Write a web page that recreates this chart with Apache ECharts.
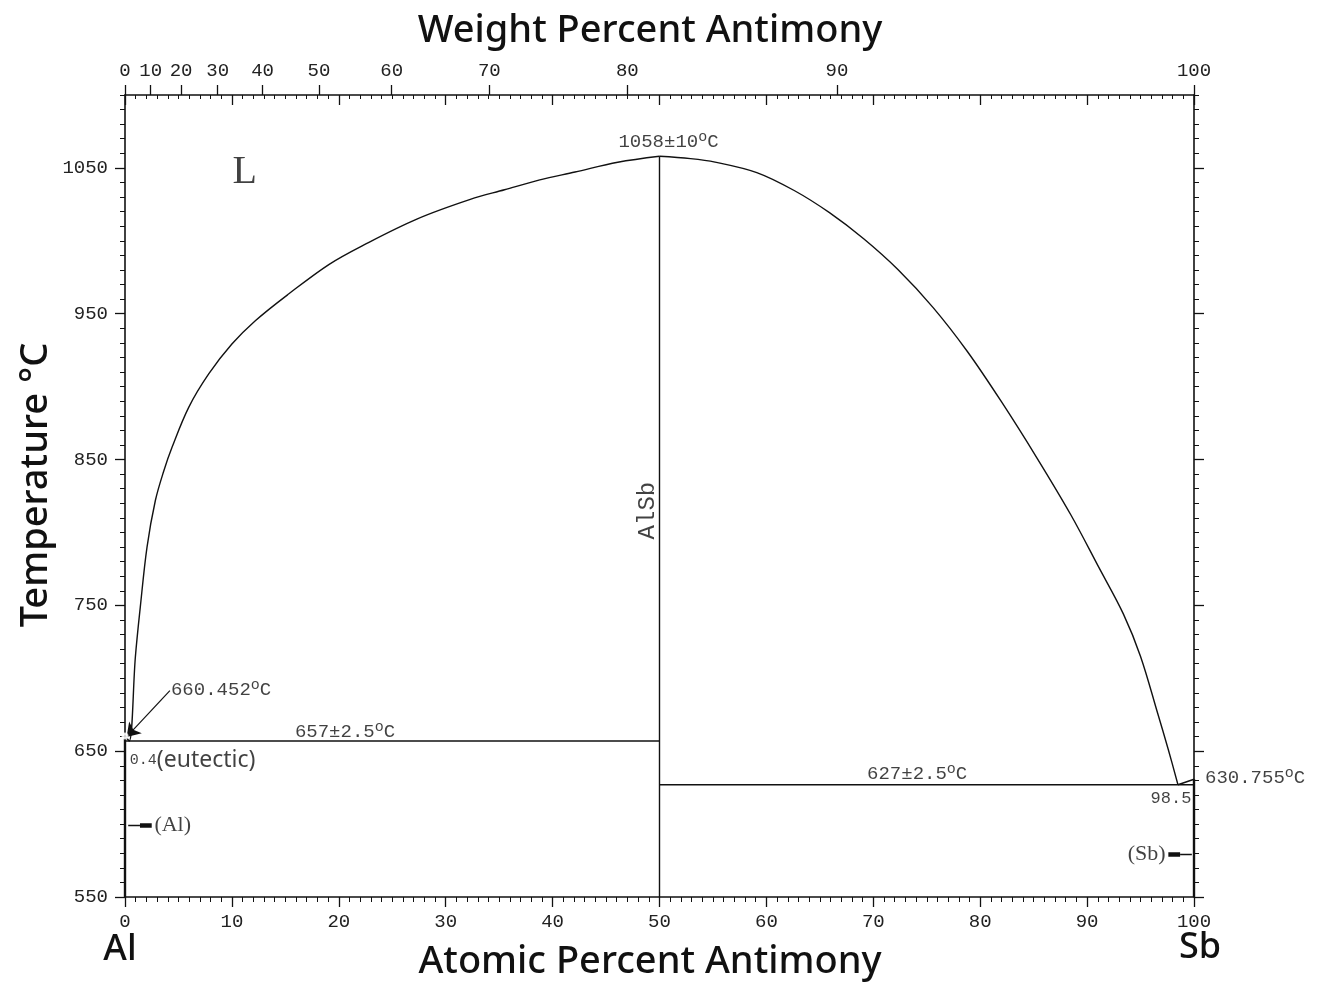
<!DOCTYPE html>
<html>
<head>
<meta charset="utf-8">
<script src="https://cdn.jsdelivr.net/npm/echarts@6/dist/echarts.min.js"></script>
<style>
  html, body { margin: 0; padding: 0; background: #fff; }
  #chart { width: 1317px; height: 985px; }
</style>
</head>
<body>
<div id="chart"></div>
<script>
// Al–Sb binary phase diagram: temperature (°C) against atomic percent Sb,
// with the matching weight-percent scale along the top edge.

const weightTicks = [0, 10, 20, 30, 40, 50, 60, 70, 80, 90, 100];
const tempTicks = [550, 650, 750, 850, 950, 1050];

// Liquidus, Al-rich side (Al melting point -> eutectic -> AlSb congruent point)
const liquidusAlAt = [0, 0.4, 0.97, 1.43, 2.06, 2.84, 3.62, 4.4, 5.96, 7.83, 10.0, 12.19, 15.3, 19.1, 22.4, 27.3, 32.3, 35.5, 38.8, 42.1, 46.1, 50];
const liquidusAlT  = [660.452, 657, 714.6, 748.8, 790, 821.9, 842, 858.4, 885.8, 908.7, 929.2, 945.2, 963.5, 983.9, 997.4, 1014.9, 1028.4, 1035, 1041.8, 1047.2, 1053.9, 1058];

// Liquidus, Sb-rich side (AlSb congruent point -> eutectic at 98.5)
const liquidusSbAt = [50, 52.9, 55.2, 59.1, 62.6, 65.9, 69.1, 72.3, 75.6, 78.8, 82.0, 85.3, 88.5, 91.1, 93.4, 95.0, 96.6, 97.6, 98.5];
const liquidusSbT  = [1058, 1056.4, 1054.0, 1046.8, 1034.5, 1019.3, 1001.4, 980.3, 954.2, 924.1, 889.5, 851.2, 811.8, 776, 744, 715, 676, 651, 627];

// Short liquidus from the Sb-side eutectic to the Sb melting point
const sbEndAt = [98.5, 100];
const sbEndT  = [627, 630.755];

// Invariant lines, compound line and terminal solid solutions
const alEutecticAt = [0, 50];
const alEutecticT  = [657, 657];
const sbEutecticAt = [50, 100];
const sbEutecticT  = [627, 627];
const compoundAt = [50, 50];
const compoundT  = [550, 1058];
const alSolidAt = [0, 0];
const alSolidT  = [550, 660.452];
const sbSolidAt = [100, 100];
const sbSolidT  = [550, 630.755];

// Molar masses used to place weight-percent ticks on the atomic-percent scale
const M_AL = 26.9815;
const M_SB = 121.76;
function wtToAt(w) {
  const a = w / M_SB, b = (100 - w) / M_AL;
  return Math.round(1e6 * 100 * a / (a + b)) / 1e6;
}
function atToWt(x) {
  const a = x * M_SB, b = (100 - x) * M_AL;
  return 100 * a / (a + b);
}

const pairs = (xs, ys) => xs.map((x, i) => [x, ys[i]]);

const INK = '#111';
const MONO = 'Liberation Mono';
const SANS = 'Noto Sans';
const degRich = {
  o: { fontSize: 15, fontFamily: MONO, color: INK, padding: [0, 0, 10, 0] }
};

const lineStyleBase = { color: INK, width: 1.4 };
function pathSeries(name, xs, ys, smooth) {
  return {
    name, type: 'line', data: pairs(xs, ys), showSymbol: false, symbol: 'none',
    smooth: smooth || false,
    lineStyle: lineStyleBase, silent: true, z: 3, clip: false
  };
}

const chart = echarts.init(document.getElementById('chart'), null, { renderer: 'canvas' });

const tickLabel = { fontFamily: MONO, fontSize: 19, color: '#222' };
const hiddenLine = { show: false, onZero: false };
const weightTickPos = weightTicks.map(wtToAt);

const option = {
  backgroundColor: '#fff',
  animation: false,
  grid: { left: 125, right: 123, top: 95, bottom: 88, outerBoundsMode: 'none', containLabel: false },
  xAxis: [
    { // atomic percent, bottom
      type: 'value', position: 'bottom', min: 0, max: 100, interval: 10,
      axisLine: { show: true, onZero: false, lineStyle: { color: INK, width: 1.6 } },
      axisTick: { show: true, inside: false, length: 10, lineStyle: { color: INK, width: 1.3 } },
      minorTick: { show: true, splitNumber: 10, length: 5, lineStyle: { color: INK, width: 1 } },
      axisLabel: Object.assign({ margin: 15, showMinLabel: true, showMaxLabel: true }, tickLabel),
      splitLine: { show: false }, minorSplitLine: { show: false }
    },
    { // atomic percent ticks mirrored inside the top edge
      type: 'value', position: 'top', min: 0, max: 100, interval: 10,
      axisLine: { show: true, onZero: false, lineStyle: { color: INK, width: 1.6 } },
      axisTick: { show: true, inside: true, length: 10, lineStyle: { color: INK, width: 1.3 } },
      minorTick: { show: true, splitNumber: 10, length: 4, lineStyle: { color: INK, width: 1 } },
      axisLabel: { show: false },
      splitLine: { show: false }, minorSplitLine: { show: false }
    },
    { // weight percent scale, top
      type: 'value', position: 'top', min: 0, max: 100,
      axisLine: hiddenLine,
      axisTick: { show: true, inside: false, length: 10, customValues: weightTickPos, lineStyle: { color: INK, width: 1.3 } },
      axisLabel: Object.assign({
        margin: 15, showMinLabel: true, showMaxLabel: true, hideOverlap: false,
        customValues: weightTickPos,
        formatter: v => String(Math.round(atToWt(v)))
      }, tickLabel),
      splitLine: { show: false }
    }
  ],
  yAxis: [
    { // temperature, left, labelled ticks
      type: 'value', position: 'left', min: 550, max: 1100,
      axisLine: { show: true, onZero: false, lineStyle: { color: INK, width: 1.6 } },
      axisTick: { show: true, inside: false, length: 10, customValues: tempTicks, lineStyle: { color: INK, width: 1.3 } },
      axisLabel: Object.assign({ margin: 17, customValues: tempTicks, formatter: v => String(v) }, tickLabel),
      splitLine: { show: false }
    },
    { // left minor ticks
      type: 'value', position: 'left', min: 550, max: 1100, interval: 10,
      axisLine: hiddenLine,
      axisTick: { show: true, inside: false, length: 5, lineStyle: { color: INK, width: 1 } },
      axisLabel: { show: false }, splitLine: { show: false }
    },
    { // right edge, major ticks
      type: 'value', position: 'right', min: 550, max: 1100,
      axisLine: { show: true, onZero: false, lineStyle: { color: INK, width: 1.6 } },
      axisTick: { show: true, inside: false, length: 10, customValues: tempTicks, lineStyle: { color: INK, width: 1.3 } },
      axisLabel: { show: false }, splitLine: { show: false }
    },
    { // right minor ticks
      type: 'value', position: 'right', min: 550, max: 1100, interval: 10,
      axisLine: hiddenLine,
      axisTick: { show: true, inside: false, length: 5, lineStyle: { color: INK, width: 1 } },
      axisLabel: { show: false }, splitLine: { show: false }
    }
  ],
  graphic: [
    { type: 'text', x: 650, y: 31, style: { text: 'Weight Percent Antimony', fontFamily: SANS, fontSize: 38, fontWeight: 500, fill: INK, align: 'center', verticalAlign: 'middle' } },
    { type: 'text', x: 650, y: 962, style: { text: 'Atomic Percent Antimony', fontFamily: SANS, fontSize: 38, fontWeight: 500, fill: INK, align: 'center', verticalAlign: 'middle' } },
    { type: 'text', x: 36, y: 485, rotation: Math.PI / 2, style: { text: 'Temperature °C', fontFamily: SANS, fontSize: 38, fontWeight: 500, fill: INK, align: 'center', verticalAlign: 'middle' } },
    { type: 'text', x: 120, y: 950, style: { text: 'Al', fontFamily: SANS, fontSize: 36, fontWeight: 500, fill: INK, align: 'center', verticalAlign: 'middle' } },
    { type: 'text', x: 1200, y: 948, style: { text: 'Sb', fontFamily: SANS, fontSize: 36, fontWeight: 500, fill: INK, align: 'center', verticalAlign: 'middle' } }
  ],
  series: [
    pathSeries('Liquidus (Al side)', liquidusAlAt, liquidusAlT, 0.35),
    pathSeries('Liquidus (Sb side)', liquidusSbAt, liquidusSbT, 0.35),
    pathSeries('Liquidus (Sb end)', sbEndAt, sbEndT),
    pathSeries('Eutectic 657', alEutecticAt, alEutecticT),
    pathSeries('Eutectic 627', sbEutecticAt, sbEutecticT),
    pathSeries('AlSb', compoundAt, compoundT),
    Object.assign(pathSeries('(Al)', alSolidAt, alSolidT), { lineStyle: { color: INK, width: 2.4 } }),
    Object.assign(pathSeries('(Sb)', sbSolidAt, sbSolidT), { lineStyle: { color: INK, width: 2.4 } }),
    { // Al melting point marker
      type: 'scatter', symbol: 'emptyCircle', symbolSize: 5, silent: true, z: 4,
      itemStyle: { color: '#fff', borderColor: INK, borderWidth: 1 },
      data: [[alSolidAt[1], alSolidT[1]]], clip: false
    },
    { // arrow from the Al melting point note
      type: 'lines', coordinateSystem: 'cartesian2d', silent: true, z: 4,
      symbol: ['none', 'arrow'], symbolSize: 13,
      lineStyle: { color: INK, width: 1.2, opacity: 1 },
      data: [{ coords: [[4.2, 691.5], [0.15, 659.8]] }]
    },
    { // pointers to the terminal solid solutions
      type: 'lines', coordinateSystem: 'cartesian2d', silent: true, z: 4,
      symbol: ['none', 'none'],
      lineStyle: { color: INK, width: 1.3, opacity: 1 },
      data: [
        { coords: [[0.3, 599], [1.4, 599]] },
        { coords: [[1.4, 599], [2.5, 599]], lineStyle: { width: 4.5 } },
        { coords: [[97.6, 579], [98.7, 579]], lineStyle: { width: 4.5 } },
        { coords: [[98.7, 579], [99.8, 579]] }
      ]
    },
    { // text annotations
      type: 'scatter', symbolSize: 0, silent: true, z: 5, clip: false,
      label: { show: true, fontFamily: MONO, fontSize: 19, color: INK, rich: degRich },
      data: [
        { value: [50, 1058], label: { formatter: '1058±10{o|o}C', position: 'top', distance: 2, offset: [9, 0] } },
        { value: [11.2, 1046.6], label: { formatter: 'L', position: 'inside', fontFamily: 'Liberation Serif', fontSize: 40 } },
        { value: [48.85, 815], label: { formatter: 'AlSb', position: 'inside', rotate: 90, fontSize: 24 } },
        { value: [20.58, 663.2], label: { formatter: '657±2.5{o|o}C', position: 'inside' } },
        { value: [0.45, 643.8], label: { formatter: '{s|0.4}{e|(eutectic)}', position: 'right', distance: 0,
            rich: { s: { fontFamily: MONO, fontSize: 15, color: INK }, e: { fontFamily: SANS, fontSize: 23, color: INK } } } },
        { value: [74.1, 634.6], label: { formatter: '627±2.5{o|o}C', position: 'inside' } },
        { value: [99.75, 617.8], label: { formatter: '98.5', position: 'left', distance: 0, fontSize: 17 } },
        { value: [100, 631.5], label: { formatter: '630.755{o|o}C', position: 'right', distance: 11 } },
        { value: [4.3, 691.8], label: { formatter: '660.452{o|o}C', position: 'right', distance: 0 } },
        { value: [2.75, 599], label: { formatter: '(Al)', position: 'right', distance: 0, fontFamily: 'Liberation Serif', fontSize: 22 } },
        { value: [97.35, 579], label: { formatter: '(Sb)', position: 'left', distance: 0, fontFamily: 'Liberation Serif', fontSize: 22 } }
      ]
    }
  ]
};

chart.setOption(option);
</script>
</body>
</html>
